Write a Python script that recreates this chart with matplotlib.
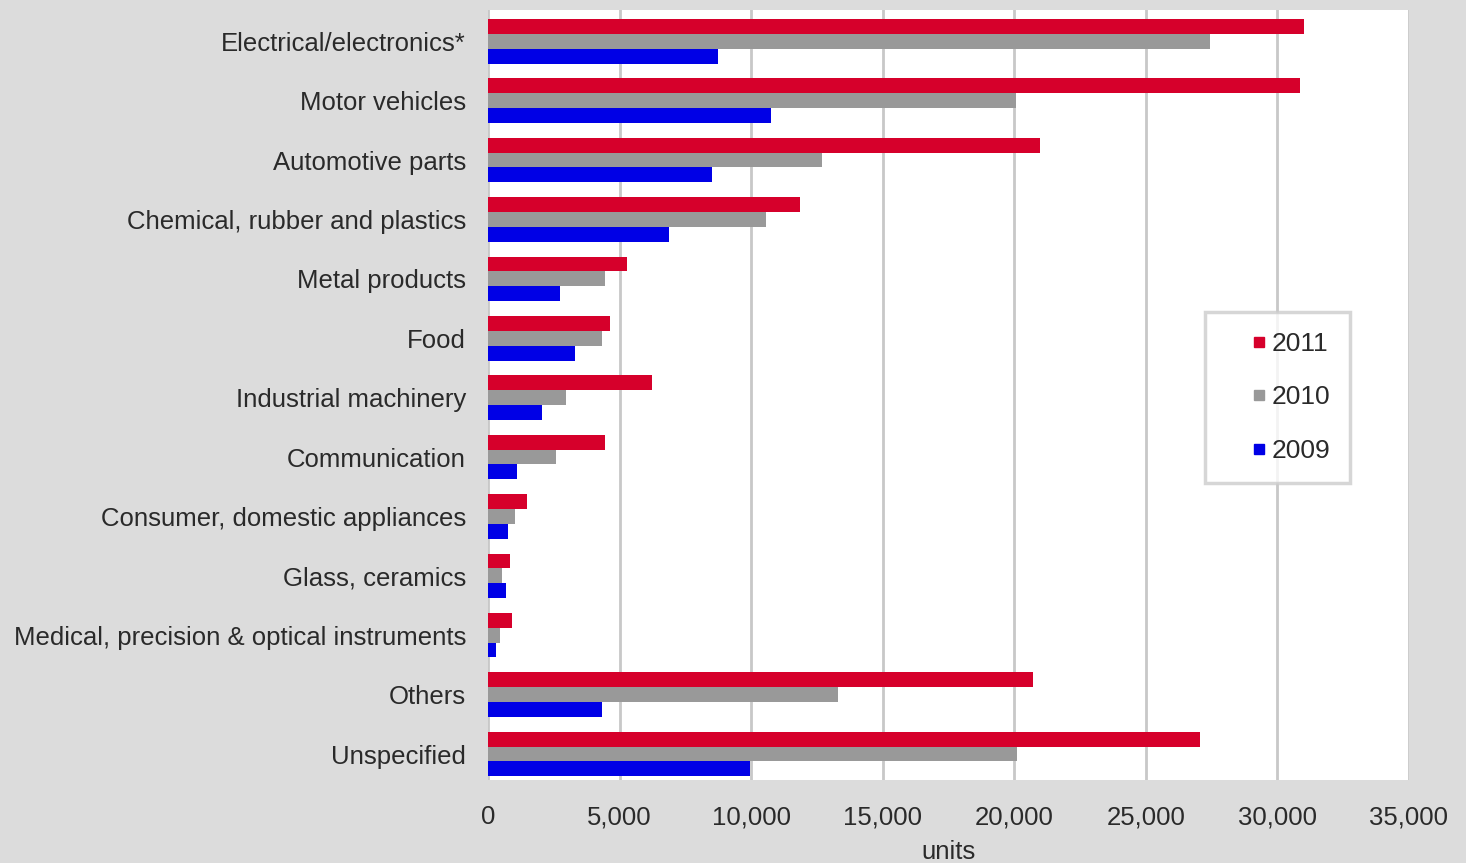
import matplotlib
matplotlib.use("Agg")
import matplotlib.pyplot as plt
import numpy as np
from matplotlib.lines import Line2D

categories = [
    "Electrical/electronics*",
    "Motor vehicles",
    "Automotive parts",
    "Chemical, rubber and plastics",
    "Metal products",
    "Food",
    "Industrial machinery",
    "Communication",
    "Consumer, domestic appliances",
    "Glass, ceramics",
    "Medical, precision & optical instruments",
    "Others",
    "Unspecified",
]
values_2011 = [31000, 30850, 20960, 11870, 5290, 4640, 6240, 4450, 1480, 840, 910, 20730, 27080]
values_2010 = [27460, 20050, 12700, 10570, 4450, 4340, 2970, 2590, 1030, 530, 460, 13310, 20120]
values_2009 = [8750, 10760, 8520, 6880, 2740, 3310, 2050, 1100, 760, 680, 300, 4340, 9970]
series_labels = ["2011", "2010", "2009"]
xticks = [0, 5000, 10000, 15000, 20000, 25000, 30000, 35000]

colors = ["#d6002b", "#999999", "#0000e6"]
bg = "#dcdcdc"
txt = "#2a2a2a"

plt.rcParams['font.family'] = ['Liberation Sans', 'DejaVu Sans']

fig = plt.figure(figsize=(14.66, 8.63), dpi=100, facecolor=bg)
ax = fig.add_axes([0.333, 0.096, 0.628, 0.892])
ax.set_facecolor("white")

y = np.arange(len(categories))
h = 0.25
for i, (vals, c) in enumerate(zip([values_2011, values_2010, values_2009], colors)):
    ax.barh(y + (i - 1) * h, vals, height=h, color=c, zorder=3)

ax.set_ylim(len(categories) - 0.56, -0.52)
ax.set_xlim(0, 35000)
ax.set_xticks(xticks)
ax.set_xticklabels([f"{v:,}" for v in xticks], fontsize=18.5, color=txt)
ax.set_yticks(y)
ax.set_yticklabels(categories, fontsize=18.5, color=txt)
ax.tick_params(axis='both', length=0)
ax.tick_params(axis='y', pad=16)
ax.tick_params(axis='x', pad=18)
ax.xaxis.grid(True, color="#c8c8c8", linewidth=2, zorder=0)
for s in ax.spines.values():
    s.set_visible(False)
ax.set_xlabel("units", fontsize=18.5, color=txt, labelpad=8)

handles = [Line2D([0], [0], marker='s', linestyle='none', markersize=7,
                  markerfacecolor=c, markeredgecolor=c) for c in colors]
leg = ax.legend(handles, series_labels, loc='upper left',
                bbox_to_anchor=(0.779, 0.608), fontsize=19,
                frameon=True, fancybox=False, handletextpad=-0.85,
                labelspacing=1.12, borderpad=0.75, handlelength=2.6,
                borderaxespad=0, labelcolor=txt)
leg.get_frame().set_edgecolor("#cccccc")
leg.get_frame().set_linewidth(2.5)

fig.savefig("out.png", dpi=100, facecolor=bg)
